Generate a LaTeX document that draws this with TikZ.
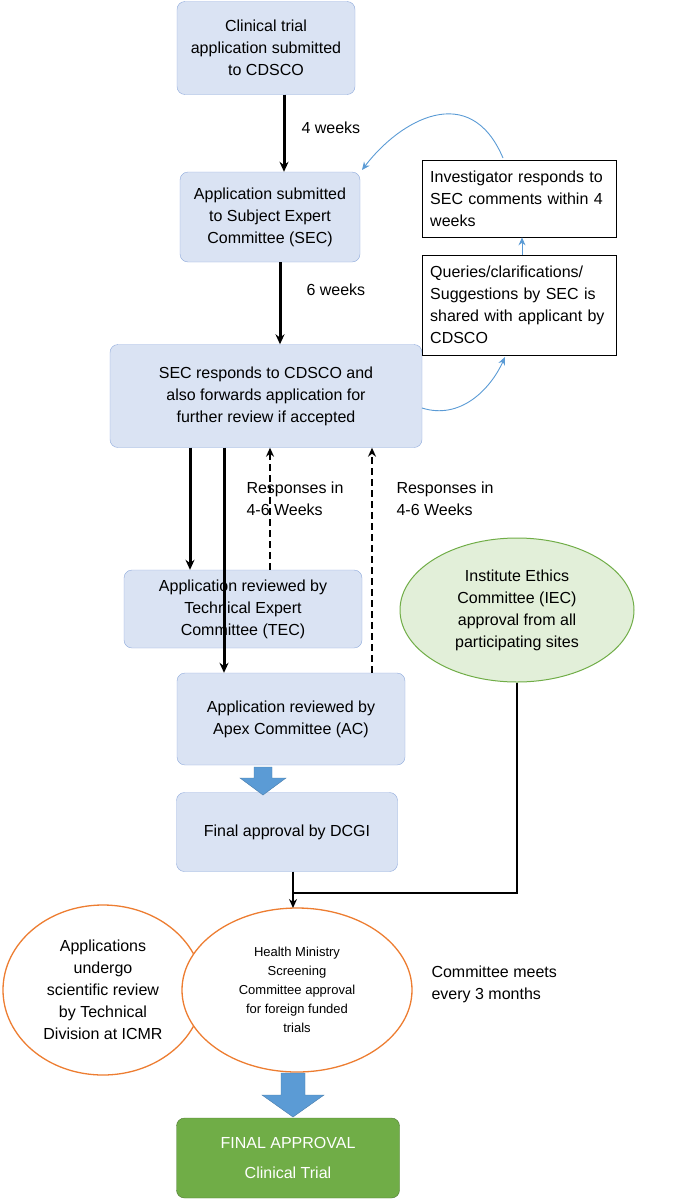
\documentclass[tikz,border=0pt]{standalone}
\usepackage{fontspec}
\setmainfont{Liberation Sans}
\usetikzlibrary{arrows.meta,shapes.geometric}
\definecolor{bfill}{HTML}{DAE3F3}\definecolor{bdraw}{HTML}{8FAADC}
\definecolor{gfill}{HTML}{E2EFD9}\definecolor{gdraw}{HTML}{70AD47}
\definecolor{ored}{HTML}{ED7D31}\definecolor{barrow}{HTML}{5B9BD5}
\begin{document}
\begin{tikzpicture}[x=1pt,y=-1pt,
 box/.style={draw=bdraw,fill=bfill,rounded corners=8pt,align=center,font=\fontsize{16}{22}\selectfont},
 wbox/.style={draw=black,fill=white,align=left,font=\fontsize{16}{22}\selectfont,inner sep=0,anchor=north west},
 thick arrow/.style={line width=3pt,-{Stealth[length=10pt,width=9pt]}},
 dash arrow/.style={line width=2.2pt,dash pattern=on 7pt off 4pt,-{Stealth[length=9pt,width=8pt]}},
 blue arrow/.style={draw=barrow,line width=0.9pt,-{Stealth[length=8pt,width=7pt]}},
 lab/.style={align=left,font=\fontsize{16}{22}\selectfont,anchor=north west},
 oell/.style={ellipse,draw=ored,line width=1.3pt,fill=white,align=center,inner sep=0},
 block/.style={draw=barrow!80!black,fill=barrow}]
\useasboundingbox (0,0) rectangle (685,1202);
\node[box,minimum width=178,minimum height=93] (b1) at (266,48) {Clinical trial\\application submitted\\to CDSCO};
\node[box,minimum width=180,minimum height=90] (b2) at (270,217) {Application submitted\\to Subject Expert\\Committee (SEC)};
\node[box,minimum width=312,minimum height=103] (b3) at (266,396) {SEC responds to CDSCO and\\also forwards application for\\further review if accepted};
\node[wbox,minimum width=190,minimum height=77,text width=178,inner xsep=8] (inv) at (422,160) {Investigator responds to SEC comments within 4 weeks};
\node[wbox,minimum width=190,minimum height=100,text width=178,inner xsep=8] (q) at (422,255) {Queries/clarifications/ Suggestions by SEC is shared with applicant by CDSCO};
\node[box,minimum width=238,minimum height=78] (tec) at (243,609) {Application reviewed by\\Technical Expert\\Committee (TEC)};
\node[box,minimum width=228,minimum height=92] (ac) at (291,719) {Application reviewed by\\Apex Committee (AC)};
\node[box,minimum width=221,minimum height=79] (dc) at (287,832) {Final approval by DCGI};
\node[ellipse,draw=gdraw,fill=gfill,line width=1pt,minimum width=234,minimum height=144,align=center,font=\fontsize{16}{22}\selectfont,inner sep=0] (iec) at (517,610) {Institute Ethics\\Committee (IEC)\\approval from all\\participating sites};
\node[oell,minimum width=200,minimum height=170,font=\fontsize{16}{22}\selectfont] (icmr) at (103,990) {Applications\\undergo\\scientific review\\by Technical\\Division at ICMR};
\node[oell,minimum width=230,minimum height=164,font=\fontsize{13}{19}\selectfont] (hm) at (297,990) {Health Ministry\\Screening\\Committee approval\\for foreign funded\\trials};
\node[lab] (cm) at (428,962) {Committee meets\\every 3 months};
\node[draw=gdraw!70!black,fill=gdraw,rounded corners=8pt,minimum width=223,minimum height=80,align=center,text=white,font=\fontsize{16}{30}\selectfont] (fin) at (288,1158) {FINAL APPROVAL\\Clinical Trial};
\coordinate (j) at (293,893);
\coordinate (jt) at (293,908);
% arrows
\draw[thick arrow] (b1.south -| 284,0) -- (b2.north -| 284,0);
\node[lab] (l1) at (298,118) {4 weeks};
\draw[thick arrow] (b2.south -| 280,0) -- (b3.north -| 280,0);
\node[lab] (l2) at (303,280) {6 weeks};
\draw[thick arrow] (b3.south -| 190,0) -- (tec.north -| 190,0);
\draw[thick arrow] (b3.south -| 224,0) -- (ac.north -| 224,0);
\draw[dash arrow] (tec.north -| 270,0) -- (b3.south -| 270,0);
\draw[dash arrow] (ac.north -| 372,0) -- (b3.south -| 372,0);
\node[lab] (r1) at (243,478) {Responses in\\4-6 Weeks};
\node[lab] (r2) at (393,478) {Responses in\\4-6 Weeks};
\draw[blue arrow] (422,408) .. controls (460,420) and (490,390) .. (505,357);
\draw[blue arrow] (q.north -| 522,0) -- (inv.south -| 522,0);
\draw[blue arrow] (503,158) .. controls (470,80) and (400,120) .. (362,170);
% IEC connector
\draw[line width=2.2pt] (iec.south) -- (iec.south |- j) -- (j);
\draw[line width=2.2pt,-{Stealth[length=9pt,width=8pt]}] (dc.south -| j) -- (jt);
% block arrows
\draw[block] (254,767) -- (272,767) -- (272,778) -- (286,778) -- (263,795) -- (240,778) -- (254,778) -- cycle;
\draw[block] (281,1073) -- (305,1073) -- (305,1095) -- (324,1095) -- (293,1117) -- (262,1095) -- (281,1095) -- cycle;
\end{tikzpicture}
\end{document}
